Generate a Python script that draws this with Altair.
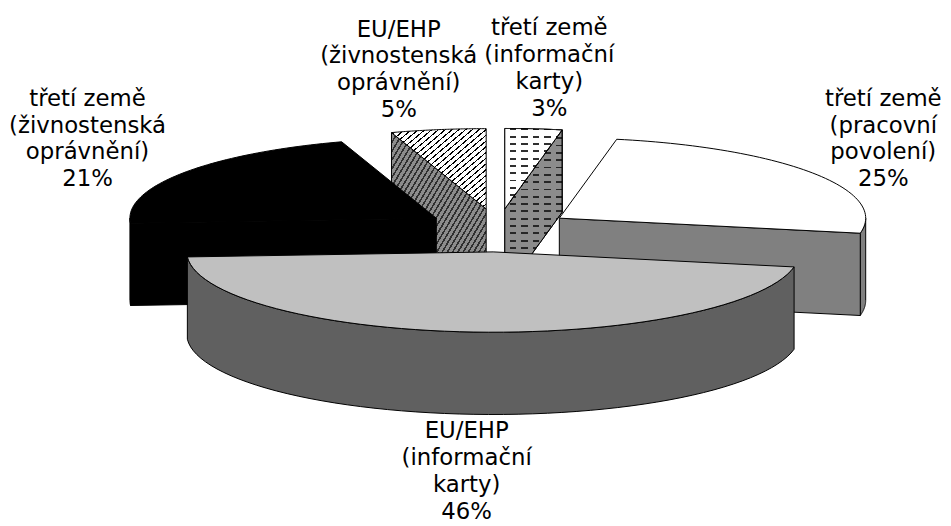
import json
import altair as alt
import pandas as pd

# ---- data -------------------------------------------------------------
categories = [
    "třetí země (informační karty)",
    "třetí země (pracovní povolení)",
    "EU/EHP (informační karty)",
    "třetí země (živnostenská oprávnění)",
    "EU/EHP (živnostenská oprávnění)",
]
label_names = [
    "třetí země\n(informační\nkarty)",
    "třetí země\n(pracovní\npovolení)",
    "EU/EHP\n(informační\nkarty)",
    "třetí země\n(živnostenská\noprávnění)",
    "EU/EHP\n(živnostenská\noprávnění)",
]
values = [3, 25, 46, 21, 5]

top_colors = ["#ffffff", "#ffffff", "#c0c0c0", "#000000", "#ffffff"]
side_colors = ["#808080", "#808080", "#606060", "#000000", "#808080"]

df = pd.DataFrame({
    "cat": categories,
    "name": label_names,
    "value": values,
    "order": list(range(len(values))),
})

# ---- geometry / style constants --------------------------------------
W, H = 943, 518
CXP, CYP = 502, 230      # page position of the pie centre
R, RY, D = 309, 81, 83   # ellipse radii and depth of the 3D pie
EX, EY = 75, 21.8        # explode distance
LX, LY, LD = 410, 142, 80  # label distance (LD: extra drop below the front wall)
FS, LH = 23, 27          # label font size and line height
N = 60                   # points per arc

xs = alt.Scale(domain=[8 - CXP, 8 - CXP + W], nice=False, zero=False)
ys = alt.Scale(domain=[8 - CYP, 8 - CYP + H], nice=False, zero=False, reverse=True)

keys = [c + "|top" for c in categories] + [c + "|side" for c in categories]
cscale = alt.Scale(domain=keys, range=top_colors + side_colors)


def stripes(bg, fg, n, frac, x2, y2):
    stops = []
    for i in range(n):
        a, b, c = i / n, (i + frac) / n, (i + 1) / n
        stops += [
            {"offset": round(a, 5), "color": fg},
            {"offset": round(b, 5), "color": fg},
            {"offset": round(b, 5), "color": bg},
            {"offset": round(c, 5), "color": bg},
        ]
    return {"gradient": "linear", "x1": 0, "y1": 0, "x2": x2, "y2": y2, "stops": stops}


# hatch ("/" lines) for the 5 % slice
hatch_light = [stripes("#ffffff", "#000000", 28, 0.25, 1, 1)]
hatch_dark = [stripes("#8c8c8c", "#303030", 36, 0.35, 1, 1)]
# short horizontal dashes for the 3 % slice: rows of lines, cut by a column mask
dash_light = [stripes("#ffffff", "#303030", 11, 0.26, 0, 1),
              stripes("transparent", "#ffffff", 5, 0.45, 1, 0)]
dash_dark = [stripes("#8c8c8c", "#262626", 22, 0.26, 0, 1),
             stripes("transparent", "#8c8c8c", 5, 0.45, 1, 0)]


def base():
    return (
        alt.Chart(df)
        .transform_joinaggregate(total="sum(value)")
        .transform_window(cum="sum(value)", sort=[alt.SortField("order")], frame=[None, 0])
        .transform_calculate(a0="2*PI*(datum.cum - datum.value)/datum.total")
        .transform_calculate(a1="2*PI*datum.cum/datum.total")
        .transform_calculate(am="(datum.a0 + datum.a1)/2")
        .transform_calculate(cx=f"{EX}*sin(datum.am)")
        .transform_calculate(cy=f"-{EY}*cos(datum.am)")
        .transform_calculate(depth="-cos(datum.am)")
    )


def line_mark(ch, fill):
    if fill is None:
        return ch.mark_line(filled=True, stroke="black", strokeWidth=1,
                            interpolate="linear-closed", strokeJoin="round")
    return ch.mark_line(filled=True, fill=fill, stroke="black", strokeWidth=1,
                        interpolate="linear-closed", strokeJoin="round")


def enc(ch, fill, detail, kind):
    e = dict(
        x=alt.X("x:Q", scale=xs, axis=None),
        y=alt.Y("y:Q", scale=ys, axis=None),
        order=alt.Order("idx:Q"),
        detail=detail,
    )
    if fill is None:
        e["color"] = alt.Color("key:N", scale=cscale, legend=None)
    ch = ch.transform_calculate(key=f"datum.cat + '|{kind}'")
    return line_mark(ch, fill).encode(**e)


def top_layer(flt, fill=None):
    ch = (
        base().transform_filter(flt)
        .transform_calculate(idx=f"sequence(0, {N + 2})")
        .transform_flatten(["idx"])
        .transform_calculate(ang=f"datum.a0 + max(0, (datum.idx - 1)/{N})*(datum.a1 - datum.a0)")
        .transform_calculate(x=f"datum.idx == 0 ? datum.cx : datum.cx + {R}*sin(datum.ang)")
        .transform_calculate(y=f"datum.idx == 0 ? datum.cy : datum.cy - {RY}*cos(datum.ang)")
    )
    return enc(ch, fill, "cat:N", "top")


def wall_layer(flt, fill=None):
    ch = (
        base().transform_filter(flt)
        .transform_calculate(w0="max(datum.a0, PI/2)")
        .transform_calculate(w1="min(datum.a1, 3*PI/2)")
        .transform_filter("datum.w1 > datum.w0")
        .transform_calculate(idx=f"sequence(0, {2 * N + 2})")
        .transform_flatten(["idx"])
        .transform_calculate(s=f"datum.idx <= {N} ? datum.idx/{N} : 1 - (datum.idx - {N} - 1)/{N}")
        .transform_calculate(ang="datum.w0 + datum.s*(datum.w1 - datum.w0)")
        .transform_calculate(x=f"datum.cx + {R}*sin(datum.ang)")
        .transform_calculate(y=f"datum.cy - {RY}*cos(datum.ang) + (datum.idx > {N} ? {D} : 0)")
    )
    return enc(ch, fill, "cat:N", "side")


def rad_layer(flt, fill=None):
    ch = (
        base().transform_filter(flt)
        .transform_calculate(fc="[0, 1]")
        .transform_flatten(["fc"])
        .transform_calculate(ea="datum.fc == 0 ? datum.a0 : datum.a1")
        .transform_calculate(vis="datum.fc == 0 ? -sin(datum.a0) : sin(datum.a1)")
        .transform_filter("datum.vis > 0.001")
        .transform_calculate(idx="[0, 1, 2, 3]")
        .transform_flatten(["idx"])
        .transform_calculate(rim="(datum.idx == 1 || datum.idx == 2) ? 1 : 0")
        .transform_calculate(x=f"datum.cx + datum.rim*{R}*sin(datum.ea)")
        .transform_calculate(y=f"datum.cy - datum.rim*{RY}*cos(datum.ea) + (datum.idx >= 2 ? {D} : 0)")
    )
    return enc(ch, fill, ["cat:N", "fc:N"], "side")


patterned = [categories[4], categories[0]]
layers = []
for pat, light, dark in [(categories[4], hatch_light, hatch_dark),
                         (categories[0], dash_light, dash_dark)]:
    flt = f"datum.cat == {json.dumps(pat, ensure_ascii=False)}"
    for f in dark:
        layers += [wall_layer(flt, f), rad_layer(flt, f)]
    for f in light:
        layers.append(top_layer(flt, f))

plain = f"indexof({json.dumps(patterned, ensure_ascii=False)}, datum.cat) < 0"
for flt in [f"{plain} && datum.depth < 0.5", f"{plain} && datum.depth >= 0.5"]:
    layers += [wall_layer(flt), rad_layer(flt), top_layer(flt)]

labels = (
    base()
    .transform_calculate(label="datum.name + '\\n' + format(datum.value/datum.total, '.0%')")
    .transform_calculate(c8="pow(max(0, cos(datum.am)), 8)")
    .transform_calculate(
        x=f"datum.cx + {LX}*sin(datum.am) - 15*abs(sin(datum.am))"
          " + datum.c8*(16*(sin(datum.am) < 0 ? -1 : 1) - 8)")
    .transform_calculate(y=f"datum.cy - {LY}*cos(datum.am) + {LD}*max(0, -cos(datum.am))")
    .mark_text(lineBreak="\n", font="Verdana, DejaVu Sans", fontSize=FS, lineHeight=LH,
               align="center", baseline="middle", color="black", dy=-1.5 * LH)
    .encode(x=alt.X("x:Q", scale=xs, axis=None),
            y=alt.Y("y:Q", scale=ys, axis=None),
            text="label:N")
)
layers.append(labels)

chart = (
    alt.layer(*layers)
    .properties(width=W, height=H, padding=0, background="white",
                autosize=alt.AutoSizeParams(type="none"))
    .configure_view(stroke=None)
)

chart.save("out.html", embed_options={"renderer": "svg", "actions": False})
